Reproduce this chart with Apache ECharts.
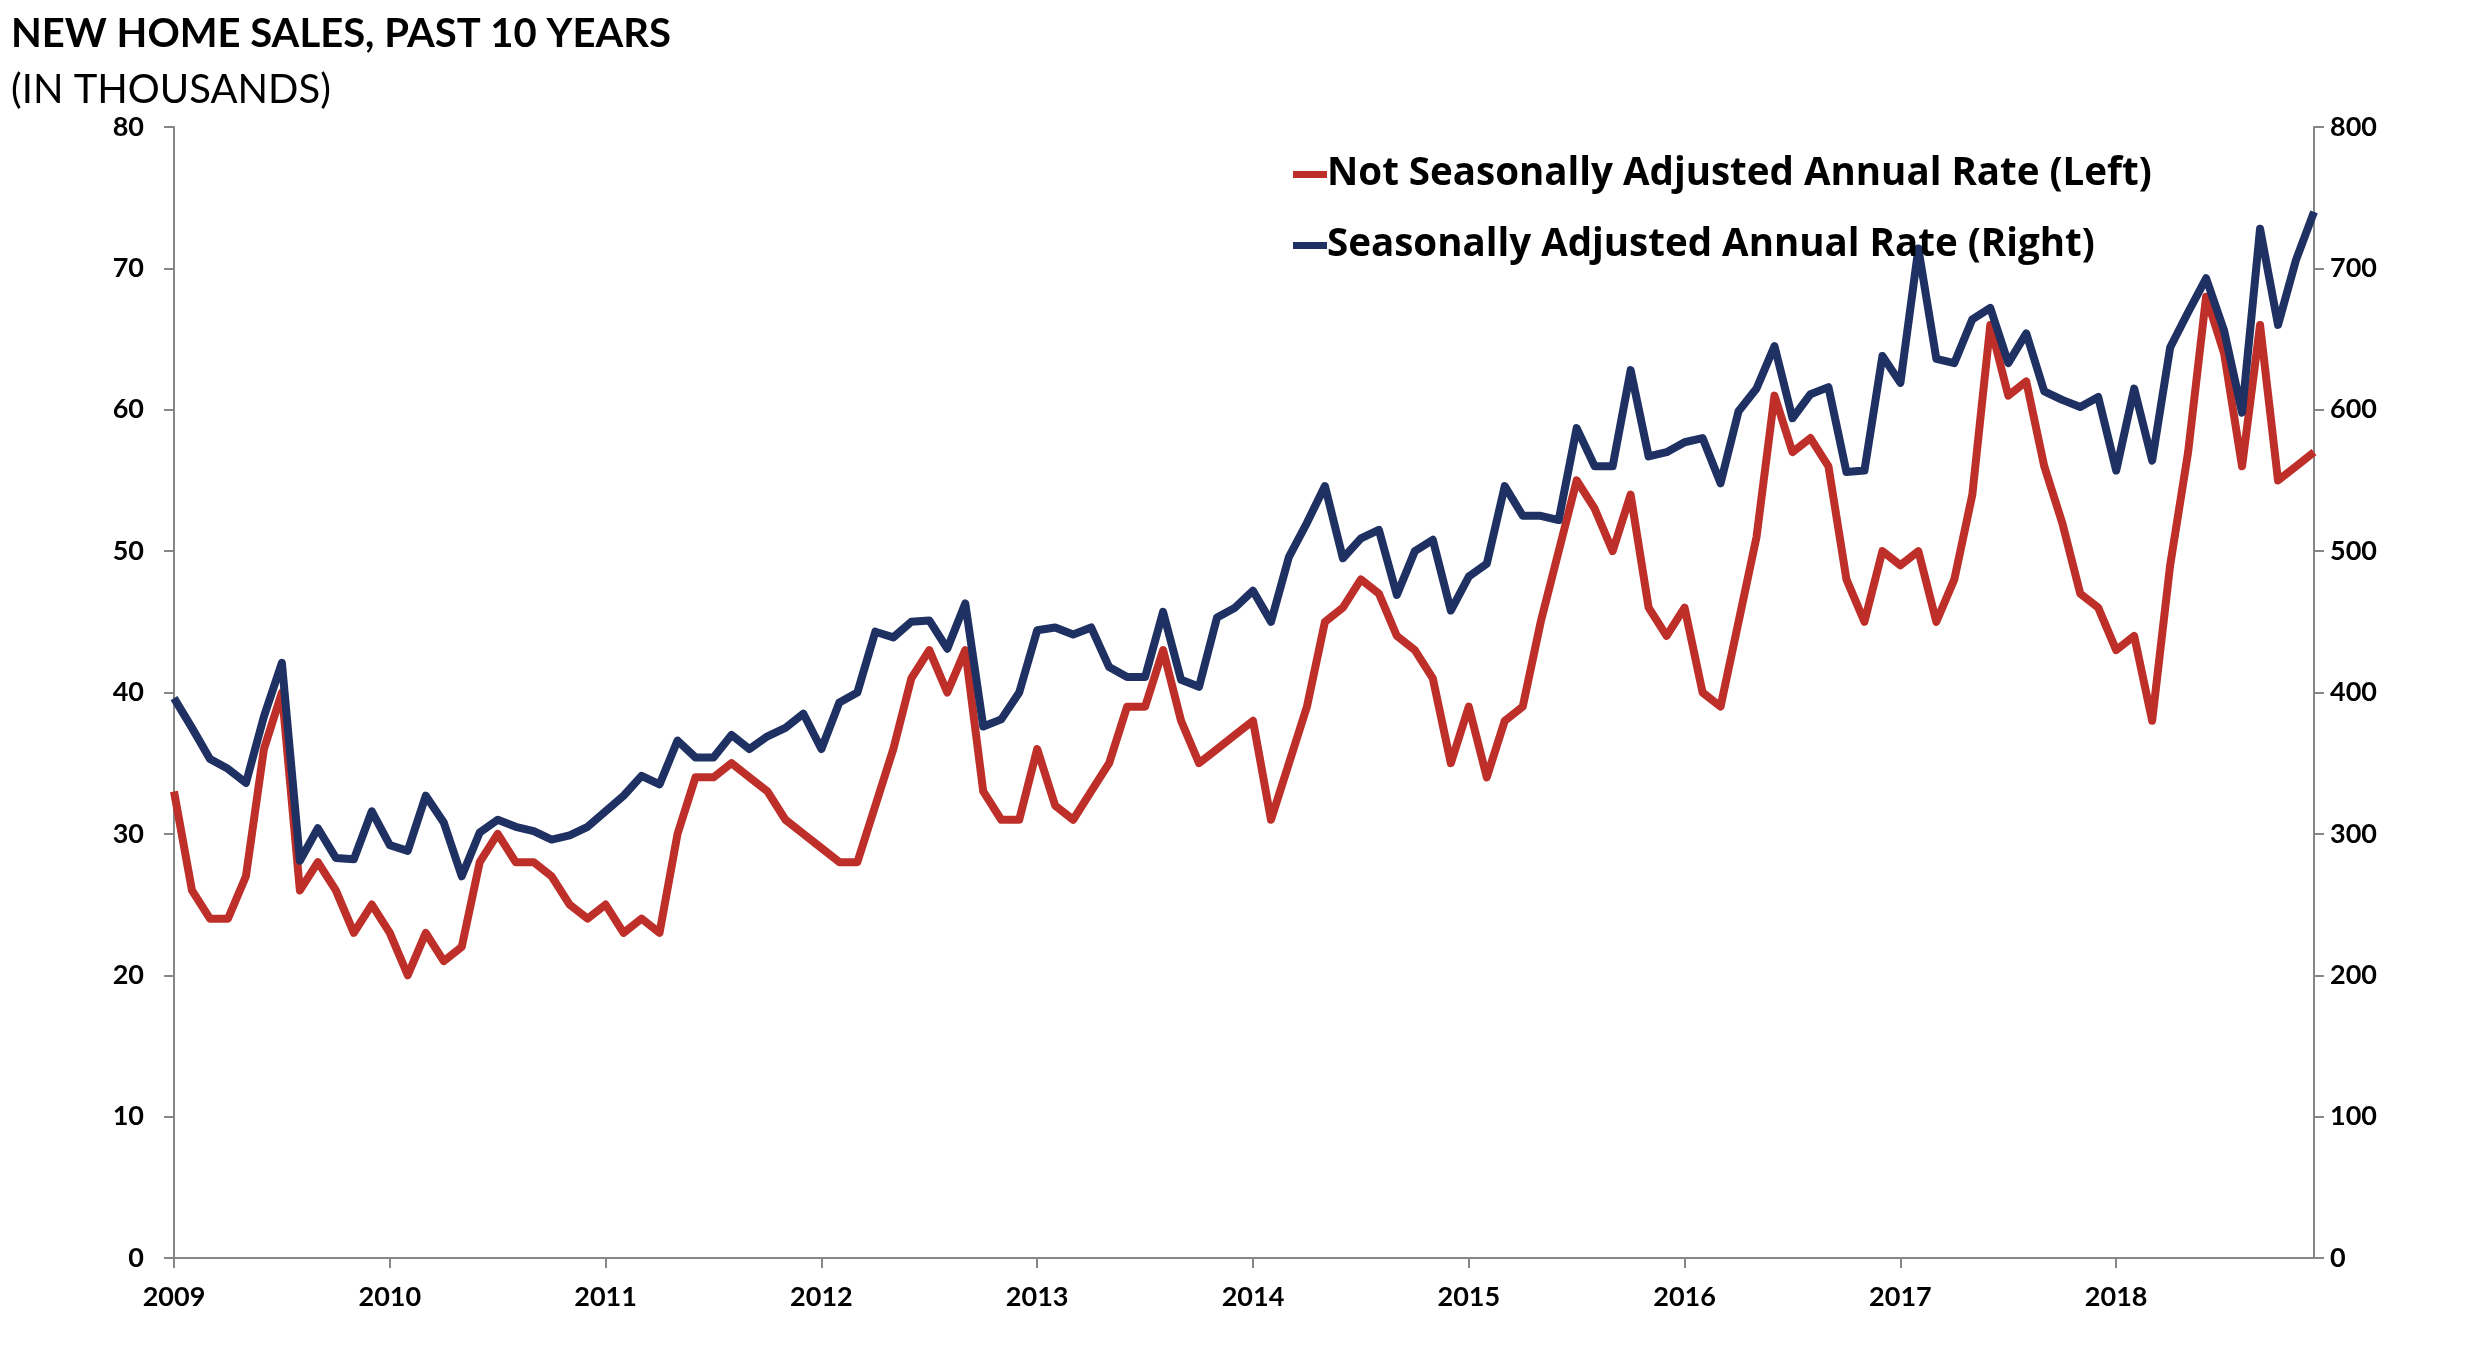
<!DOCTYPE html>
<html>
<head>
<meta charset="utf-8">
<script src="https://cdn.jsdelivr.net/npm/echarts@6/dist/echarts.min.js"></script>
<style>
html,body{margin:0;padding:0;background:#fff;}
#chart{width:2466px;height:1348px;}
</style>
</head>
<body>
<div id="chart"></div>
<script>
const years = ['2009','2010','2011','2012','2013','2014','2015','2016','2017','2018'];
const monthNames = ['01','02','03','04','05','06','07','08','09','10','11','12'];

// Not seasonally adjusted (thousands, left axis)
const nsa = [
  33, 26, 24, 24, 27, 36, 40, 26, 28, 26, 23, 25,
  23, 20, 23, 21, 22, 28, 30, 28, 28, 27, 25, 24,
  25, 23, 24, 23, 30, 34, 34, 35, 34, 33, 31, 30,
  29, 28, 28, 32, 36, 41, 43, 40, 43, 33, 31, 31,
  36, 32, 31, 33, 35, 39, 39, 43, 38, 35, 36, 37,
  38, 31, 35, 39, 45, 46, 48, 47, 44, 43, 41, 35,
  39, 34, 38, 39, 45, 50, 55, 53, 50, 54, 46, 44,
  46, 40, 39, 45, 51, 61, 57, 58, 56, 48, 45, 50,
  49, 50, 45, 48, 54, 66, 61, 62, 56, 52, 47, 46,
  43, 44, 38, 49, 57, 68, 64, 56, 66, 55, 56, 57
];

// Seasonally adjusted annual rate (thousands, right axis)
const saar = [
  396, 375, 353, 346, 336, 383, 421, 281, 304, 283, 282, 316,
  292, 288, 327, 308, 270, 301, 310, 305, 302, 296, 299, 305,
  316, 327, 341, 335, 366, 354, 354, 370, 360, 369, 375, 385,
  360, 393, 400, 443, 439, 450, 451, 431, 463, 376, 381, 400,
  444, 446, 441, 446, 418, 411, 411, 457, 409, 404, 453, 460,
  472, 450, 496, 520, 546, 495, 509, 515, 469, 500, 508, 458,
  482, 491, 546, 525, 525, 522, 587, 560, 560, 628, 567, 570,
  577, 580, 548, 599, 615, 645, 594, 611, 616, 556, 557, 638,
  619, 714, 636, 633, 664, 672, 633, 654, 613, 607, 602, 609,
  557, 615, 564, 644, 669, 693, 656, 598, 728, 660, 706, 740
];

const leftTicks = [0, 10, 20, 30, 40, 50, 60, 70, 80];
const rightTicks = [0, 100, 200, 300, 400, 500, 600, 700, 800];

const categories = [];
years.forEach(y => monthNames.forEach(m => categories.push(y + '-' + m)));

const FONT = 'Lato';
const LEGEND_FONT = 'Open Sans';
const chart = echarts.init(document.getElementById('chart'), null, {renderer: 'canvas'});
const axisGray = '#868686';

chart.setOption({
  backgroundColor: '#ffffff',
  animation: false,
  textStyle: {fontFamily: FONT},
  title: {
    text: 'NEW HOME SALES, PAST 10 YEARS',
    subtext: '(IN THOUSANDS)',
    left: 6,
    top: 9,
    itemGap: 16,
    textStyle: {fontFamily: FONT, fontSize: 40, fontWeight: 'bold', color: '#000'},
    subtextStyle: {fontFamily: FONT, fontSize: 40, fontWeight: 'normal', color: '#000'}
  },
  legend: {
    orient: 'vertical',
    left: 1288,
    top: 150,
    itemGap: 32,
    itemWidth: 34,
    itemHeight: 7,
    icon: 'rect',
    textStyle: {fontFamily: LEGEND_FONT, fontSize: 38.5, fontWeight: 'bold', color: '#000', padding: [0,0,0,-5]},
    data: ['Not Seasonally Adjusted Annual Rate (Left)', 'Seasonally Adjusted Annual Rate (Right)']
  },
  grid: {left: 174, right: 152, top: 127, bottom: 90, containLabel: false},
  xAxis: {
    type: 'category',
    data: categories,
    boundaryGap: false,
    axisLine: {lineStyle: {color: axisGray, width: 2}},
    axisTick: {show: true, interval: (i) => i % 12 === 0, length: 10, lineStyle: {color: axisGray, width: 2}},
    axisLabel: {
      interval: (i) => i % 12 === 0,
      formatter: (v) => v.slice(0, 4),
      fontFamily: FONT, fontSize: 27, fontWeight: 'bold', color: '#000', margin: 26
    },
    splitLine: {show: false}
  },
  yAxis: [
    {
      type: 'value', min: leftTicks[0], max: leftTicks[leftTicks.length - 1], interval: 10,
      position: 'left',
      axisLine: {show: true, lineStyle: {color: axisGray, width: 2}},
      axisTick: {show: true, length: 10, lineStyle: {color: axisGray, width: 2}},
      axisLabel: {fontFamily: FONT, fontSize: 27, fontWeight: 'bold', color: '#000', margin: 30},
      splitLine: {show: false}
    },
    {
      type: 'value', min: rightTicks[0], max: rightTicks[rightTicks.length - 1], interval: 100,
      position: 'right',
      axisLine: {show: true, lineStyle: {color: axisGray, width: 2}},
      axisTick: {show: true, length: 10, lineStyle: {color: axisGray, width: 2}},
      axisLabel: {fontFamily: FONT, fontSize: 27, fontWeight: 'bold', color: '#000', margin: 16},
      splitLine: {show: false}
    }
  ],
  series: [
    {
      name: 'Not Seasonally Adjusted Annual Rate (Left)',
      type: 'line', yAxisIndex: 0, data: nsa,
      symbol: 'none', z: 2,
      itemStyle: {color: '#BE2F29'},
      lineStyle: {color: '#BE2F29', width: 8, join: 'round'}
    },
    {
      name: 'Seasonally Adjusted Annual Rate (Right)',
      type: 'line', yAxisIndex: 1, data: saar,
      symbol: 'none', z: 3,
      itemStyle: {color: '#1F3062'},
      lineStyle: {color: '#1F3062', width: 8, join: 'round'}
    }
  ]
});
</script>
</body>
</html>
